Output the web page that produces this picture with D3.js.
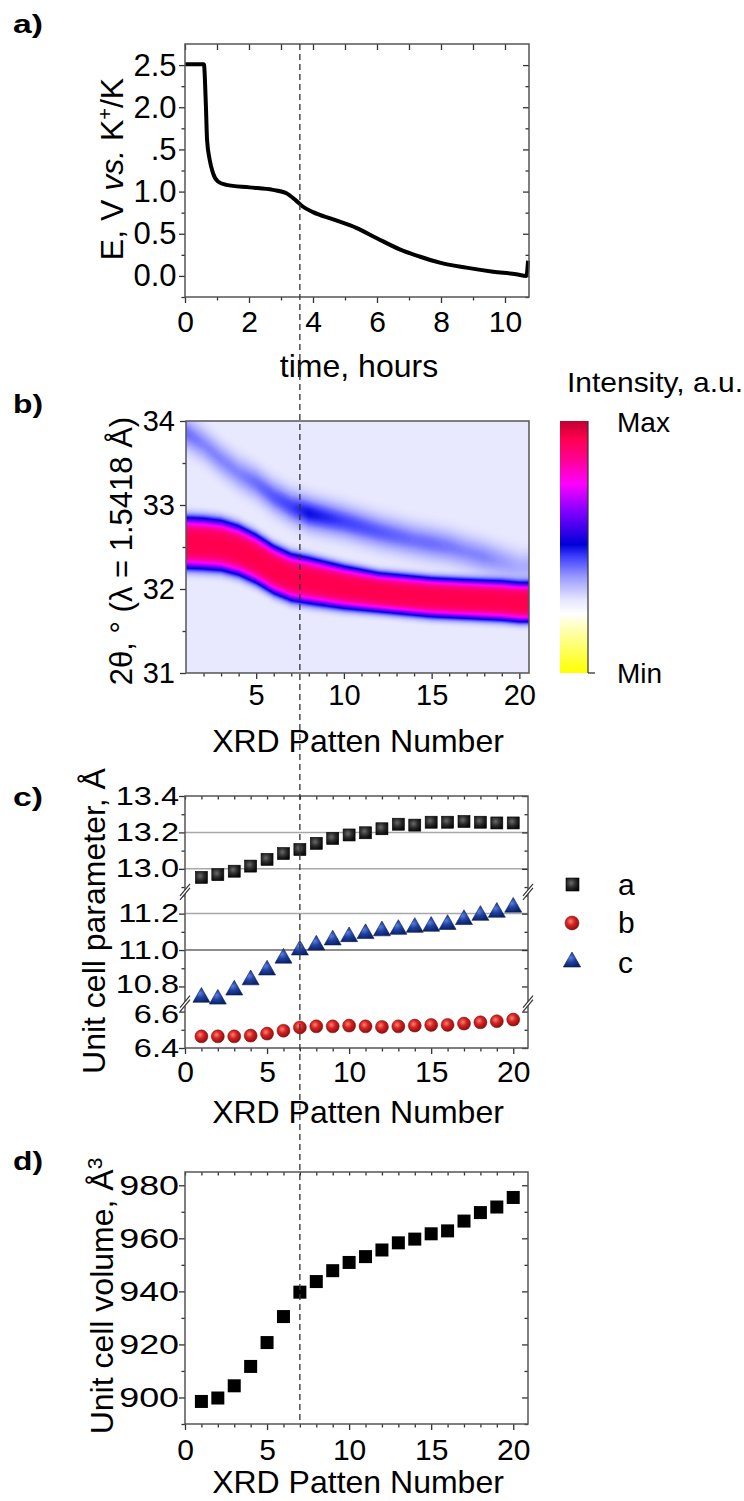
<!DOCTYPE html>
<html>
<head>
<meta charset="utf-8">
<script src="https://cdnjs.cloudflare.com/ajax/libs/d3/7.8.5/d3.min.js"></script>
<style>
    body { margin: 0; background: #fff; }
    svg { display: block; }
    svg text { font-family: "Liberation Sans", Arial, sans-serif; fill: #000; }
</style>
</head>
<body>
<svg id="fig" width="744" height="1501"></svg>
<script>

// a) discharge curve
var timeH = [0, 0.59, 0.65, 0.69, 0.77, 0.875, 1.03, 1.29, 2.02, 2.75, 3.17, 3.48, 3.69, 4.0,
    4.63, 5.35, 5.98, 6.71, 7.33, 7.96, 8.79, 9.63, 10.35, 10.67, 10.72];
var voltage = [2.51, 2.51, 2.05, 1.61, 1.38, 1.22, 1.12, 1.08, 1.05, 1.02, 0.98, 0.89, 0.82, 0.756,
    0.67, 0.57, 0.45, 0.315, 0.23, 0.157, 0.098, 0.05, 0.02, 0.0, 0.18];

// b) peak positions (2theta, deg) per XRD pattern
var patternNo = [1, 2, 3, 4, 5, 6, 7, 8, 9, 10, 11, 12, 13, 14, 15, 16, 17, 18, 19, 20];
var mainPeak = [32.55, 32.54, 32.52, 32.46, 32.36, 32.23, 32.14, 32.10, 32.06, 32.02,
    31.99, 31.96, 31.94, 31.92, 31.90, 31.89, 31.88, 31.87, 31.86, 31.84];
var mainWidth = [0.60, 0.60, 0.59, 0.58, 0.57, 0.56, 0.55, 0.54, 0.52, 0.50,
    0.48, 0.46, 0.46, 0.46, 0.46, 0.46, 0.46, 0.46, 0.46, 0.46];
var secPeak = [33.86, 33.72, 33.54, 33.38, 33.26, 33.10, 32.98, 32.90, 32.85, 32.80,
    32.74, 32.68, 32.63, 32.58, 32.54, 32.50, 32.44, 32.38, 32.32, 32.26];
var secHeight = [0.42, 0.40, 0.40, 0.40, 0.42, 0.44, 0.46, 0.50, 0.48, 0.46,
    0.45, 0.44, 0.43, 0.42, 0.42, 0.41, 0.40, 0.40, 0.38, 0.36];

var cmapStops = [0, 0.17, 0.235, 0.29, 0.38, 0.46, 0.51, 0.64, 0.75, 0.85, 0.93, 1.0];
var cmapColors = ["#ffff00", "#ffffb0", "#ffffff", "#e6e6ff", "#9b9bff", "#4040ff", "#0000d8",
    "#8000ff", "#ff00ff", "#ff0090", "#ff0050", "#c00030"];

// c) unit cell parameters, A
var paramA = [12.953, 12.968, 12.987, 13.015, 13.052, 13.084, 13.106, 13.14, 13.167, 13.186,
    13.198, 13.22, 13.245, 13.24, 13.256, 13.256, 13.26, 13.256, 13.252, 13.252];
var paramB = [6.464, 6.464, 6.464, 6.468, 6.479, 6.495, 6.513, 6.519, 6.519, 6.523,
    6.519, 6.516, 6.519, 6.523, 6.527, 6.527, 6.534, 6.541, 6.547, 6.556];
var paramC = [10.74, 10.73, 10.78, 10.836, 10.89, 10.955, 11.0, 11.027, 11.055, 11.073,
    11.09, 11.105, 11.113, 11.124, 11.13, 11.14, 11.167, 11.19, 11.207, 11.235];
var cBreaks = [6.4, 6.644, 10.706, 11.32, 12.874, 13.4];
var cMajor = [6.4, 6.6, 10.8, 11.0, 11.2, 13.0, 13.2, 13.4];
var cMinor = [6.5, 10.9, 11.1, 11.3, 12.9, 13.1, 13.3];
var cGrid = [11.0, 11.2, 13.0, 13.2];

// d) unit cell volume, A^3
var volume = [898.5, 899.8, 904.4, 911.7, 920.7, 930.5, 939.7, 943.7, 947.8, 950.9,
    953.1, 955.6, 958.3, 959.7, 961.7, 962.8, 966.5, 969.7, 971.8, 975.4];

var markerPattern = 7;


var svg = d3.select("#fig");
var defs = svg.append("defs");

var tickCol = "#333", frameCol = "#555";

function makeRadial(id, stops) {
    var gr = defs.append("radialGradient").attr("id", id)
        .attr("cx", "40%").attr("cy", "38%").attr("r", "65%");
    stops.forEach(function(s) {
        gr.append("stop").attr("offset", s[0]).attr("stop-color", s[1]);
    });
}
makeRadial("gSq", [["0%", "#6a6a6a"], ["55%", "#2a2a2a"], ["100%", "#0a0a0a"]]);
makeRadial("gCi", [["0%", "#ff8070"], ["45%", "#d42222"], ["100%", "#8a0c0c"]]);
makeRadial("gTr", [["0%", "#5a80e0"], ["50%", "#1d3f9f"], ["100%", "#0c2266"]]);

function stretch(sel, k) {
    sel.each(function() {
        var w = this.getComputedTextLength();
        d3.select(this).attr("textLength", w * k).attr("lengthAdjust", "spacingAndGlyphs");
    });
}

function styleAxis(g, size) {
    g.select(".domain").remove();
    g.selectAll(".tick line").attr("stroke", tickCol).attr("stroke-width", 1.3);
    g.selectAll(".tick text").attr("font-family", null).attr("font-size", size).attr("fill", "#000");
    return g;
}

// cfg: x, y, w, h, xMajor, xMinor, yMajor, yMinor, xFmt, yFmt, xFont, yFont, xPad, yPad, mirror
function drawAxes(g, cfg) {
    var maj = 6, mnr = 3.5;
    var bx = g.append("g").attr("transform", "translate(0," + cfg.h + ")")
        .call(d3.axisBottom(cfg.x).tickValues(cfg.xMajor).tickSize(maj).tickSizeOuter(0)
            .tickPadding(cfg.xPad).tickFormat(cfg.xFmt));
    styleAxis(bx, cfg.xFont);
    styleAxis(g.append("g").attr("transform", "translate(0," + cfg.h + ")")
        .call(d3.axisBottom(cfg.x).tickValues(cfg.xMinor).tickSize(mnr).tickSizeOuter(0).tickFormat("")), 0);

    var ly = g.append("g").attr("class", "y-major")
        .call(d3.axisLeft(cfg.y).tickValues(cfg.yMajor).tickSize(maj).tickSizeOuter(0)
            .tickPadding(cfg.yPad).tickFormat(cfg.yFmt));
    styleAxis(ly, cfg.yFont);
    styleAxis(g.append("g")
        .call(d3.axisLeft(cfg.y).tickValues(cfg.yMinor).tickSize(mnr).tickSizeOuter(0).tickFormat("")), 0);

    if (cfg.mirror) {
        styleAxis(g.append("g")
            .call(d3.axisTop(cfg.x).tickValues(cfg.xMajor.concat(cfg.xMinor)).tickSize(cfg.topAll ? -mnr : -maj)
                .tickSizeOuter(0).tickFormat("")), 0);
        styleAxis(g.append("g").attr("transform", "translate(" + cfg.w + ",0)")
            .call(d3.axisRight(cfg.y).tickValues(cfg.yMajor).tickSize(-maj).tickSizeOuter(0).tickFormat("")), 0);
        styleAxis(g.append("g").attr("transform", "translate(" + cfg.w + ",0)")
            .call(d3.axisRight(cfg.y).tickValues(cfg.yMinor).tickSize(-mnr).tickSizeOuter(0).tickFormat("")), 0);
    }
    return ly;
}

function frame(g, w, h) {
    g.append("rect").attr("width", w).attr("height", h)
        .attr("fill", "none").attr("stroke", frameCol).attr("stroke-width", 1.5);
}

function yTitle(x, y, size) {
    return svg.append("text")
        .attr("transform", "translate(" + x + "," + y + ") rotate(-90)")
        .attr("text-anchor", "middle").attr("font-size", size);
}

function xTitle(x, y, txt) {
    svg.append("text").attr("x", x).attr("y", y).attr("text-anchor", "middle")
        .attr("font-size", 32).text(txt);
}

function panelLabel(txt, y) {
    svg.append("text").attr("x", 13).attr("y", y).attr("font-size", 26).attr("font-weight", "bold")
        .attr("textLength", 30).attr("lengthAdjust", "spacingAndGlyphs").text(txt);
}


// ---------- panel a ----------
var A = { left: 185, top: 44, w: 344, h: 253 };
var gA = svg.append("g").attr("transform", "translate(" + A.left + "," + A.top + ")");
var xA = d3.scaleLinear().domain([0, 10.75]).range([0, A.w]);
var yA = d3.scaleLinear().domain([-0.25, 2.75]).range([A.h, 0]);

var lyA = drawAxes(gA, {
    x: xA, y: yA, w: A.w, h: A.h,
    xMajor: [0, 2, 4, 6, 8, 10], xMinor: [1, 3, 5, 7, 9],
    yMajor: [0, 0.5, 1, 1.5, 2, 2.5], yMinor: [-0.25, 0.25, 0.75, 1.25, 1.75, 2.25],
    xFmt: d3.format("d"), yFmt: d3.format(".1f"), xFont: 30, yFont: 31, xPad: 8, yPad: 2.5,
    mirror: true
});

gA.append("path")
    .datum(timeH.map(function(t, i) { return [t, voltage[i]]; }))
    .attr("fill", "none").attr("stroke", "#000").attr("stroke-width", 4)
    .attr("stroke-linejoin", "round")
    .attr("d", d3.line().x(function(d) { return xA(d[0]); }).y(function(d) { return yA(d[1]); })
        .curve(d3.curveMonotoneX));
frame(gA, A.w, A.h);

// the "1" of the 1.5 label sits under the axis title in the original
lyA.selectAll(".tick").filter(function(d) { return d === 1.5; }).each(function() {
    var t = d3.select(this).select("text").node();
    var bb = t.getBBox();
    d3.select(this).append("rect").attr("x", bb.x - 1).attr("y", bb.y)
        .attr("width", t.getSubStringLength(0, 1) + 1).attr("height", bb.height).attr("fill", "#fff");
});

var tA = yTitle(123, 169, 32);
tA.append("tspan").text("E, V ");
tA.append("tspan").attr("font-style", "italic").text("vs.");
tA.append("tspan").text(" K");
tA.append("tspan").attr("font-size", 20).attr("baseline-shift", "super").text("+");
tA.append("tspan").text("/K");
xTitle(359, 377, "time, hours");
panelLabel("a)", 33);


// ---------- panel b ----------
var B = { left: 186, top: 421, w: 343, h: 252 };
var gB = svg.append("g").attr("transform", "translate(" + B.left + "," + B.top + ")");
var xB = d3.scaleLinear().domain([1, 20.55]).range([0, B.w]);
var yB = d3.scaleLinear().domain([31, 34]).range([B.h, 0]);
var heatColor = d3.scaleLinear().domain(cmapStops).range(cmapColors).clamp(true);

// smooth surface between measured patterns, as the contour map does
var atPattern = function(arr) {
    return d3.scaleLinear().domain(patternNo).range(arr).clamp(true);
};
var pMain = atPattern(mainPeak), pWidth = atPattern(mainWidth),
    pSec = atPattern(secPeak), pSecH = atPattern(secHeight);

var bgLevel = 0.285, mainTop = 0.93;

function intensityAt(p, theta) {
    var hw = pWidth(p) / 2;
    var f = Math.pow(0.36, Math.pow((theta - pMain(p)) / hw, 4));
    var s = (theta - pSec(p)) / 0.18;
    return bgLevel + (mainTop - bgLevel) * f + (pSecH(p) - bgLevel) * Math.exp(-s * s);
}

var lut = d3.range(256).map(function(v) { return d3.rgb(heatColor(v / 255)); });

var cv = document.createElement("canvas");
cv.width = B.w;
cv.height = B.h * 2;
var ctx = cv.getContext("2d");
var im = ctx.createImageData(cv.width, cv.height);
var rowTheta = d3.scaleLinear().domain([0, cv.height]).range([34, 31]);
for (var col = 0; col < cv.width; col++) {
    var p = xB.invert(col + 0.5);
    for (var r = 0; r < cv.height; r++) {
        var v = Math.max(0, Math.min(255, Math.round(intensityAt(p, rowTheta(r + 0.5)) * 255)));
        var c = lut[v], k = 4 * (r * cv.width + col);
        im.data[k] = c.r; im.data[k + 1] = c.g; im.data[k + 2] = c.b; im.data[k + 3] = 255;
    }
}
ctx.putImageData(im, 0, 0);

gB.append("image")
    .attr("href", cv.toDataURL())
    .attr("x", 0).attr("y", 0).attr("width", B.w).attr("height", B.h)
    .attr("preserveAspectRatio", "none");

drawAxes(gB, {
    x: xB, y: yB, w: B.w, h: B.h,
    xMajor: [5, 10, 15, 20], xMinor: [2, 3, 4, 6, 7, 8, 9, 11, 12, 13, 14, 16, 17, 18, 19],
    yMajor: [31, 32, 33, 34], yMinor: [31.5, 32.5, 33.5],
    xFmt: d3.format("d"), yFmt: d3.format("d"), xFont: 29, yFont: 29, xPad: 5.5, yPad: 5,
    mirror: false
});
frame(gB, B.w, B.h);

yTitle(132, 551, 31).text("2θ, ° (λ = 1.5418 Å)");
xTitle(358, 752, "XRD Patten Number");
panelLabel("b)", 413);

// colour bar
var grad = defs.append("linearGradient").attr("id", "cbar")
    .attr("x1", 0).attr("y1", 1).attr("x2", 0).attr("y2", 0);
cmapStops.forEach(function(s, i) {
    grad.append("stop").attr("offset", s).attr("stop-color", cmapColors[i]);
});
var cb = svg.append("g").attr("transform", "translate(560," + B.top + ")");
cb.append("rect").attr("width", 28).attr("height", B.h).attr("fill", "url(#cbar)");
cb.append("line").attr("x1", 28).attr("x2", 28).attr("y1", 0).attr("y2", B.h)
    .attr("stroke", tickCol).attr("stroke-width", 1.2);
cb.append("line").attr("x1", 28).attr("x2", 35).attr("y1", B.h).attr("y2", B.h)
    .attr("stroke", tickCol).attr("stroke-width", 1.3);
svg.append("text").attr("x", 567).attr("y", 392).attr("font-size", 28)
    .attr("textLength", 176).attr("lengthAdjust", "spacingAndGlyphs").text("Intensity, a.u.");
svg.append("text").attr("x", 617).attr("y", 432).attr("font-size", 28).text("Max");
svg.append("text").attr("x", 617).attr("y", 683).attr("font-size", 28).text("Min");


// ---------- panel c ----------
var C = { left: 185, top: 796, w: 343, h: 252 };
var gC = svg.append("g").attr("transform", "translate(" + C.left + "," + C.top + ")");
var xC = d3.scaleLinear().domain([0, 20.9]).range([0, C.w]);

// broken y axis: three segments stacked with the same A-per-pixel
var cSpan = (cBreaks[1] - cBreaks[0]) + (cBreaks[3] - cBreaks[2]) + (cBreaks[5] - cBreaks[4]);
var cK = C.h / cSpan;
var cY1 = C.h - (cBreaks[1] - cBreaks[0]) * cK;
var cY2 = cY1 - (cBreaks[3] - cBreaks[2]) * cK;
var yC = d3.scaleLinear().domain(cBreaks).range([C.h, cY1, cY1, cY2, cY2, 0]);

gC.selectAll(".grid").data(cGrid).enter().append("line")
    .attr("x1", 0).attr("x2", C.w)
    .attr("y1", function(d) { return yC(d); }).attr("y2", function(d) { return yC(d); })
    .attr("stroke", function(d) { return d === 11.0 ? "#666" : "#a8a8a8"; })
    .attr("stroke-width", 1.5);

var lyC = drawAxes(gC, {
    x: xC, y: yC, w: C.w, h: C.h,
    xMajor: [0, 5, 10, 15, 20], xMinor: d3.range(1, 21).filter(function(d) { return d % 5; }),
    yMajor: cMajor, yMinor: cMinor,
    xFmt: d3.format("d"), yFmt: d3.format(".1f"), xFont: 30, yFont: 25, xPad: 6.5, yPad: 0,
    mirror: true, topAll: true
});
stretch(lyC.selectAll(".tick text"), 1.3);
// labels either side of the lower break sit a little apart, as in the original
lyC.selectAll(".tick text").attr("y", function(d) { return d === 10.8 ? -2 : d === 6.6 ? 3 : 0; });
frame(gC, C.w, C.h);

// axis break marks
[cY1, cY2].forEach(function(by) {
    [0, C.w].forEach(function(bx) {
        var m = gC.append("g").attr("transform", "translate(" + bx + "," + by + ")");
        m.append("polygon").attr("points", "-5,4 5,-8 5,-4 -5,8").attr("fill", "#fff");
        m.append("line").attr("x1", -5).attr("y1", 4).attr("x2", 5).attr("y2", -8)
            .attr("stroke", "#333").attr("stroke-width", 1.2);
        m.append("line").attr("x1", -5).attr("y1", 8).attr("x2", 5).attr("y2", -4)
            .attr("stroke", "#333").attr("stroke-width", 1.2);
    });
});

var symTri = d3.symbol().type(d3.symbolTriangle).size(125);

gC.selectAll(".mb").data(paramB).enter().append("circle")
    .attr("cx", function(d, i) { return xC(patternNo[i]); })
    .attr("cy", function(d) { return yC(d); })
    .attr("r", 6.5).attr("fill", "url(#gCi)").attr("stroke", "#7a0a0a").attr("stroke-width", 0.5);

gC.selectAll(".mc").data(paramC).enter().append("path")
    .attr("d", symTri)
    .attr("transform", function(d, i) { return "translate(" + xC(patternNo[i]) + "," + yC(d) + ")"; })
    .attr("fill", "url(#gTr)").attr("stroke", "#0a1c55").attr("stroke-width", 0.6);

gC.selectAll(".ma").data(paramA).enter().append("rect")
    .attr("x", function(d, i) { return xC(patternNo[i]) - 6; })
    .attr("y", function(d) { return yC(d) - 6; })
    .attr("width", 12).attr("height", 12)
    .attr("fill", "url(#gSq)").attr("stroke", "#000").attr("stroke-width", 0.6);

yTitle(105, 921, 32).text("Unit cell parameter, Å");
xTitle(358, 1123, "XRD Patten Number");
panelLabel("c)", 806);

// legend
var lg = svg.append("g");
lg.append("rect").attr("x", 566).attr("y", 878).attr("width", 13).attr("height", 13)
    .attr("fill", "url(#gSq)").attr("stroke", "#000").attr("stroke-width", 0.6);
lg.append("circle").attr("cx", 572).attr("cy", 923).attr("r", 7)
    .attr("fill", "url(#gCi)").attr("stroke", "#7a0a0a").attr("stroke-width", 0.5);
lg.append("path").attr("d", d3.symbol().type(d3.symbolTriangle).size(130))
    .attr("transform", "translate(572,962)")
    .attr("fill", "url(#gTr)").attr("stroke", "#0a1c55").attr("stroke-width", 0.6);
["a", "b", "c"].forEach(function(s, i) {
    lg.append("text").attr("x", 618).attr("y", [895, 933, 973][i]).attr("font-size", 30).text(s);
});


// ---------- panel d ----------
var D = { left: 185, top: 1172, w: 343, h: 252 };
var gD = svg.append("g").attr("transform", "translate(" + D.left + "," + D.top + ")");
var xD = d3.scaleLinear().domain([0, 20.9]).range([0, D.w]);
var yD = d3.scaleLinear().domain([890, 985]).range([D.h, 0]);

var lyD = drawAxes(gD, {
    x: xD, y: yD, w: D.w, h: D.h,
    xMajor: [0, 5, 10, 15, 20], xMinor: d3.range(1, 21).filter(function(d) { return d % 5; }),
    yMajor: [900, 920, 940, 960, 980], yMinor: [890, 910, 930, 950, 970],
    xFmt: d3.format("d"), yFmt: d3.format("d"), xFont: 30, yFont: 28, xPad: 8.5, yPad: 0,
    mirror: true, topAll: true
});
stretch(lyD.selectAll(".tick text"), 1.28);

gD.selectAll(".mv").data(volume).enter().append("rect")
    .attr("x", function(d, i) { return xD(patternNo[i]) - 6.5; })
    .attr("y", function(d) { return yD(d) - 6.5; })
    .attr("width", 13).attr("height", 13).attr("fill", "#000");
frame(gD, D.w, D.h);

var tD = yTitle(113, 1296, 32);
tD.append("tspan").text("Unit cell volume, Å");
tD.append("tspan").attr("font-size", 21).attr("baseline-shift", "super").text("3");
xTitle(358, 1493, "XRD Patten Number");
panelLabel("d)", 1170);


// dashed marker line running through all four panels
svg.append("line")
    .attr("x1", D.left + xD(markerPattern)).attr("x2", D.left + xD(markerPattern))
    .attr("y1", A.top).attr("y2", D.top + D.h)
    .attr("stroke", "#333").attr("stroke-width", 1.3).attr("stroke-dasharray", "6,4");

</script>
</body>
</html>
